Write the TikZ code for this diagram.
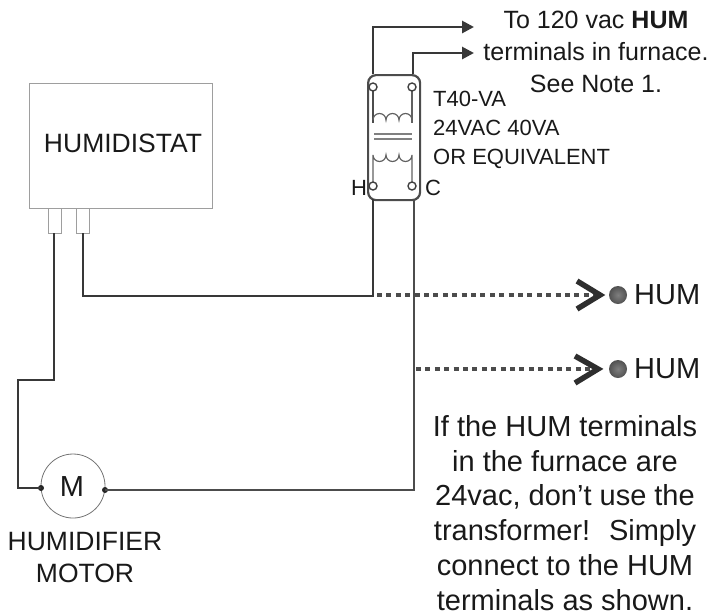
\documentclass[tikz,border=0pt]{standalone}
\usepackage{fontspec}
\setmainfont{Liberation Sans}
\usetikzlibrary{arrows.meta}
\tikzset{
 wire/.style={line width=2.8pt,draw=black!78,line join=miter},
 wirethin/.style={line width=2.2pt,draw=black!70},
 pale/.style={line width=1.1pt,draw=black!38},
 coil/.style={line width=1.2pt,draw=black!62},
 dots/.style={line width=4.5pt,draw=black!70,dash pattern=on 5pt off 4.4pt},
 chev/.style={line width=5.5pt,draw=black!82},
 term/.style={circle,draw=black!75,line width=1.4pt,fill=white,minimum size=8pt,inner sep=0pt},
 hdot/.style={circle,inner color=black!50,outer color=black!68,minimum size=18pt,inner sep=0pt},
 lab/.style={inner sep=0pt,text=black!90},
 small/.style={lab,font=\fontsize{22}{26}\selectfont},
 big/.style={lab,font=\fontsize{26.5}{32}\selectfont},
 hum/.style={lab,font=\fontsize{29}{34}\selectfont,anchor=west},
 note/.style={lab,font=\fontsize{29}{34.8}\selectfont,align=center},
}
\begin{document}
\begin{tikzpicture}[x=1pt,y=-1pt]
\useasboundingbox (0,0) rectangle (708,614);
% humidistat
\node[pale,draw,minimum width=183pt,minimum height=125pt,anchor=north west,inner sep=0pt] (hs) at (29,83) {};
\node[big] (hst) at (123,143) {HUMIDISTAT};
\node[pale,draw,minimum width=13pt,minimum height=25pt,anchor=north west,inner sep=0pt] (p1) at (48,208) {};
\node[pale,draw,minimum width=13pt,minimum height=25pt,anchor=north west,inner sep=0pt] (p2) at (76,208) {};
% motor
\node[circle,draw=black!55,line width=.8pt,minimum size=64pt,inner sep=0pt] (m) at (73,486) {};
\node[lab,font=\fontsize{29}{30}\selectfont] (mt) at (72,487) {M};
\fill[black!85] (41,488) circle (3pt);
\fill[black!85] (105,490) circle (3pt);
\coordinate (ml) at (41,488);
\coordinate (mr) at (105,490);
\node[big,anchor=north,align=center] (ml1) at (85,532) {HUMIDIFIER\\MOTOR};
% transformer
\node[draw=black!70,line width=2.2pt,rounded corners=8pt,minimum width=52pt,minimum height=125pt,anchor=north west,inner sep=0pt] (tr) at (367,74) {};
\coordinate (t1) at (373,87);
\coordinate (t2) at (412,87);
\coordinate (t3) at (373,186);
\coordinate (t4) at (412,186);
\draw[wirethin] (t1) -- (373,123);
\draw[coil] (t2) -- (412,123);
\draw[coil] (373,120) arc[start angle=180,end angle=360,radius=6.5] arc[start angle=180,end angle=360,radius=6.5] arc[start angle=180,end angle=360,radius=6.5];
\draw[line width=2.2pt,black!50] (374,134) -- (412,134);
\draw[line width=2.2pt,black!50] (374,139) -- (412,139);
\draw[coil] (373,186) -- (373,155) arc[start angle=180,end angle=0,radius=6.5] arc[start angle=180,end angle=0,radius=6.5] arc[start angle=180,end angle=0,radius=6.5] -- (412,186);
\node[term] (n1) at (t1) {};
\node[term] (n2) at (t2) {};
\node[term] (n3) at (t3) {};
\node[term] (n4) at (t4) {};
% top wires
\coordinate (a1) at (474,27);
\coordinate (a2) at (474,53);
\draw[wire,-{Triangle[length=12pt,width=12pt]}] (373,74) -- (373,27) -- (a1);
\draw[wire,-{Triangle[length=12pt,width=12pt]}] (413,74) -- (413,53) -- (a2);
% wiring
\draw[wire] (54,233) -- (54,380) -- (18,380) -- (18,488) -- (ml);
\coordinate (j) at (373,296);
\draw[wire] (83,233) -- (83,296) -- (j) -- (373,199);
\draw[wirethin] (mr) -- (414,490) -- (414,199);
% dotted
\coordinate (c1) at (598,295);
\coordinate (c2) at (596,369);
\draw[dots] (377,295) -- (c1);
\draw[dots] (416,369) -- (c2);
\draw[chev] (577,281) -- (600,295) -- (577,309);
\draw[chev] (575,356) -- (598,369) -- (575,383);
\node[hdot] (d1) at (618,295) {};
\node[hdot] (d2) at (618,369) {};
\node[hum] (h1) at (634,295) {HUM};
\node[hum] (h2) at (634,369) {HUM};
% labels
\node[lab,font=\fontsize{25}{32}\selectfont,align=center,anchor=north] (top) at (596,11) {To 120 vac \textbf{HUM}\\terminals in furnace.\\See Note 1.};
\node[lab,font=\fontsize{22}{29}\selectfont,align=left,anchor=north west] (spec) at (433,91) {T40-VA\\24VAC 40VA\\OR EQUIVALENT};
\node[small] (hl) at (359,188) {H};
\node[small] (cl) at (433,188) {C};
\node[note,anchor=north] (nt) at (565,415) {If the HUM terminals\\in the furnace are\\24vac, don’t use the\\transformer! \ Simply\\connect to the HUM\\terminals as shown.};
\end{tikzpicture}
\end{document}
